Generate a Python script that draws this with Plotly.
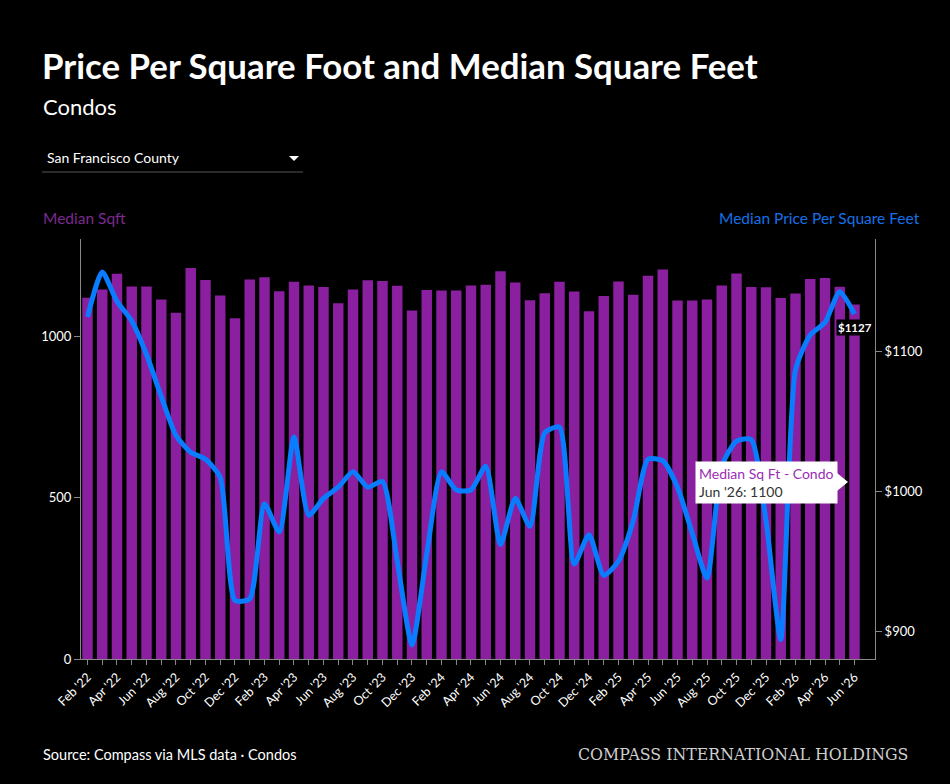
import plotly.graph_objects as go

months = ["Feb '22", "Mar '22", "Apr '22", "May '22", "Jun '22", "Jul '22", "Aug '22", "Sep '22", "Oct '22", "Nov '22", "Dec '22",
          "Jan '23", "Feb '23", "Mar '23", "Apr '23", "May '23", "Jun '23", "Jul '23", "Aug '23", "Sep '23", "Oct '23", "Nov '23", "Dec '23",
          "Jan '24", "Feb '24", "Mar '24", "Apr '24", "May '24", "Jun '24", "Jul '24", "Aug '24", "Sep '24", "Oct '24", "Nov '24", "Dec '24",
          "Jan '25", "Feb '25", "Mar '25", "Apr '25", "May '25", "Jun '25", "Jul '25", "Aug '25", "Sep '25", "Oct '25", "Nov '25", "Dec '25",
          "Jan '26", "Feb '26", "Mar '26", "Apr '26", "May '26", "Jun '26"]

median_sqft = [1121, 1146, 1195, 1156, 1156, 1115, 1074, 1213, 1176, 1128, 1057, 1177, 1184, 1141, 1170, 1159, 1154, 1104,
               1146, 1175, 1173, 1158, 1081, 1145, 1143, 1143, 1159, 1161, 1203, 1168, 1113, 1135, 1170, 1140, 1079, 1126,
               1171, 1130, 1189, 1208, 1112, 1112, 1115, 1159, 1196, 1154, 1153, 1120, 1134, 1179, 1182, 1155, 1100]

median_ppsf = [1125, 1157, 1136, 1122, 1098, 1068, 1040, 1028, 1023, 1010, 922, 923, 991, 971, 1039, 983, 995, 1003,
               1014, 1003, 1007, 950, 890, 955, 1014, 1001, 1001, 1018, 962, 995, 975, 1042, 1046, 948, 969, 940,
               950, 979, 1023, 1022, 1003, 970, 938, 1018, 1036, 1037, 979, 894, 1087, 1112, 1121, 1143, 1127]

tick_text = [m if i % 2 == 0 else "" for i, m in enumerate(months)]

BAR = "#8A1F9F"
LINE = "#0A7CFF"
FONT = "Lato"

fig = go.Figure()
fig.add_trace(go.Bar(x=months, y=median_sqft, marker=dict(color=BAR, line=dict(width=0)),
                     name="Median Sq Ft - Condo", yaxis="y"))
fig.add_trace(go.Scatter(x=months, y=median_ppsf, mode="lines", yaxis="y2",
                         line=dict(color=LINE, width=5, shape="spline", smoothing=0.6),
                         name="Median Price Per Square Feet"))

L, R, T, B = 81, 875, 239, 659
W, H = 950, 784
def px(x):
    return (x - L) / (R - L)
def py(y):
    return (B - y) / (B - T)

annotations = [
    dict(text="<b>Price Per Square Foot and Median Square Feet</b>", x=px(40), y=py(66), xref="paper", yref="paper",
         xanchor="left", yanchor="middle", showarrow=False, font=dict(family=FONT, size=34.8, color="white")),
    dict(text="Condos", x=px(41), y=py(106), xref="paper", yref="paper",
         xanchor="left", yanchor="middle", showarrow=False, font=dict(family=FONT, size=22, color="white")),
    dict(text="San Francisco County", x=px(45), y=py(157), xref="paper", yref="paper",
         xanchor="left", yanchor="middle", showarrow=False, font=dict(family=FONT, size=14, color="white")),
    dict(text="Median Sqft", x=px(41), y=py(218), xref="paper", yref="paper",
         xanchor="left", yanchor="middle", showarrow=False, font=dict(family=FONT, size=15.5, color="#7B2A90")),
    dict(text="Median Price Per Square Feet", x=px(922), y=py(218), xref="paper", yref="paper",
         xanchor="right", yanchor="middle", showarrow=False, font=dict(family=FONT, size=15.5, color="#1570E8")),
    dict(text="Source: Compass via MLS data · Condos", x=px(41), y=py(754), xref="paper", yref="paper",
         xanchor="left", yanchor="middle", showarrow=False, font=dict(family=FONT, size=14.5, color="white")),
    dict(text="COMPASS INTERNATIONAL HOLDINGS", x=px(910), y=py(754), xref="paper", yref="paper",
         xanchor="right", yanchor="middle", showarrow=False, font=dict(family="DejaVu Serif", size=15.8, color="#CFCFCF")),
    dict(text="<b>$%d</b>" % median_ppsf[-1], x=months[-1], y=median_ppsf[-1], xref="x", yref="y2",
         yshift=-13, showarrow=False, bgcolor="black", borderpad=1, font=dict(family=FONT, size=11.5, color="white")),
    dict(text="<span style='color:#9A2DB5'>Median Sq Ft - Condo</span><br>%s: %d" % (months[-1], median_sqft[-1]),
         x=px(838), y=py(482), xref="paper", yref="paper", xanchor="right", yanchor="middle", align="left",
         showarrow=False, bgcolor="white", borderpad=3, font=dict(family=FONT, size=14, color="#333333")),
]

shapes = [
    dict(type="line", xref="paper", yref="paper", x0=px(42), x1=px(303), y0=py(172), y1=py(172),
         line=dict(color="#555555", width=1)),
    dict(type="path", xref="paper", yref="paper",
         path="M %f,%f L %f,%f L %f,%f Z" % (px(289), py(156), px(299), py(156), px(294), py(161)),
         fillcolor="white", line=dict(width=0)),
    dict(type="path", xref="paper", yref="paper",
         path="M %f,%f L %f,%f L %f,%f Z" % (px(837), py(473), px(848), py(482), px(837), py(491)),
         fillcolor="white", line=dict(width=0)),
]

fig.update_layout(
    width=W, height=H,
    margin=dict(l=L, r=W - R, t=T, b=H - B, pad=0),
    paper_bgcolor="black", plot_bgcolor="black",
    showlegend=False, bargap=0.29, hovermode=False,
    font=dict(family=FONT, color="white", size=12),
    xaxis=dict(type="category", range=[-0.44, 53.39], tickmode="array", tickvals=months, ticktext=tick_text,
               tickangle=-45, ticks="outside", ticklen=5, tickcolor="#888888", showgrid=False,
               showline=True, linecolor="#888888", linewidth=1, zeroline=False,
               tickfont=dict(family=FONT, size=12.5, color="white")),
    yaxis=dict(range=[0, 1303], tickvals=[0, 500, 1000], ticks="outside", ticklen=6, tickcolor="#888888",
               showgrid=False, showline=True, linecolor="#888888", linewidth=1, zeroline=False,
               tickfont=dict(family=FONT, size=13, color="white")),
    yaxis2=dict(range=[880, 1180.7], overlaying="y", side="right", tickvals=[900, 1000, 1100],
                ticktext=["$900", "$1000", "$1100"], ticks="outside", ticklen=6, tickcolor="#888888",
                showgrid=False, showline=True, linecolor="#888888", linewidth=1, zeroline=False,
                tickfont=dict(family=FONT, size=13, color="white")),
    annotations=annotations, shapes=shapes,
)

fig.write_html("out.html", config={"displayModeBar": False},
               post_script="document.body.style.margin='0';document.body.style.background='black';")
